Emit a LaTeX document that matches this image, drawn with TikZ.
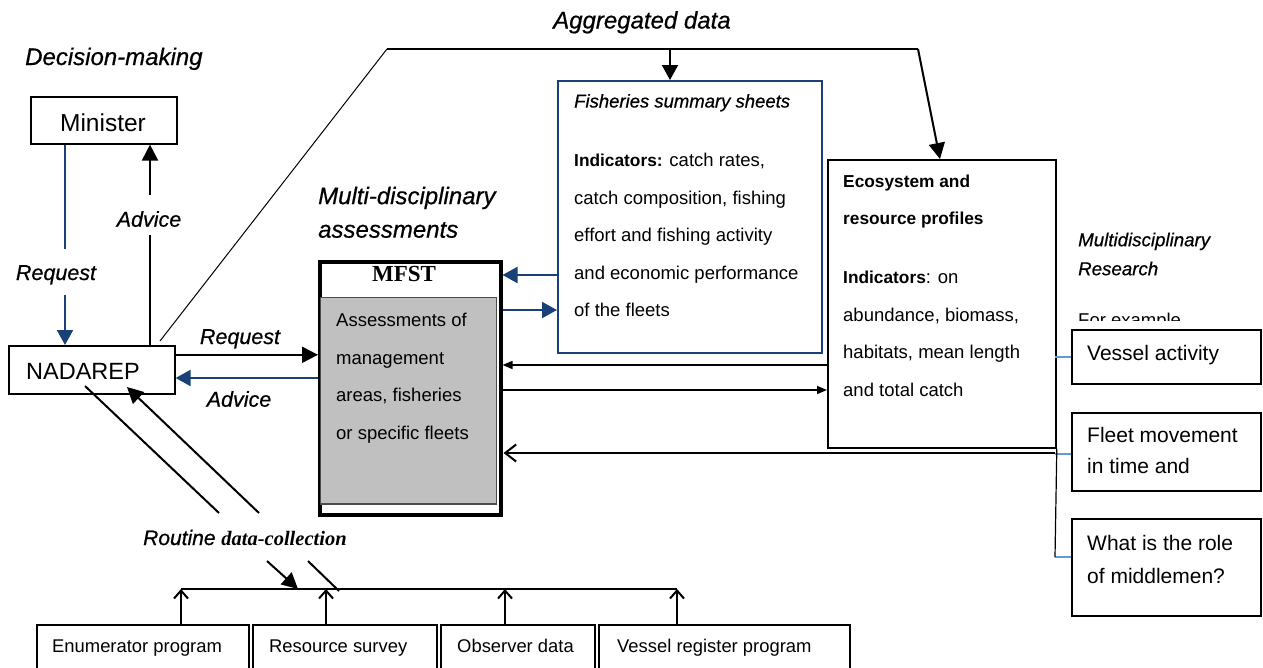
\documentclass[tikz,border=0pt]{standalone}
\usepackage{fontspec}
\setmainfont{Liberation Sans}
\newfontfamily\timesfont{Liberation Serif}
\newfontfamily\itlab[ItalicFeatures={FakeBold=0.6}]{Liberation Sans}
\usetikzlibrary{arrows.meta}
\newcommand\fsz[2]{\fontsize{#1}{#2}\selectfont}
\newcommand\bsm[1]{{\bfseries\fontsize{17.3}{37.5}\selectfont #1}}
\definecolor{navy}{RGB}{25,65,120}
\definecolor{lightline}{RGB}{95,155,215}
\definecolor{mfstgray}{RGB}{192,192,192}
\begin{document}
\begin{tikzpicture}[x=1pt,y=-1pt,
  box/.style={draw, line width=1.6pt, inner sep=0, anchor=north west},
  txt/.style={inner sep=0, anchor=base west},
  ctxt/.style={inner sep=0, anchor=base},
  ml/.style={inner sep=0, anchor=north west, align=left},
  body/.style={font=\fsz{18.5}{37.5}},
  ilabel/.style={font=\itlab\itshape\fsz{24}{33.5}},
  slabel/.style={font=\itlab\itshape\fsz{21.5}{25}},
  flow/.style={line width=2pt},
  bflow/.style={line width=2pt, draw=navy},
  tipL/.style={-{Triangle[length=16pt,width=16pt]}},
  tipM/.style={-{Triangle[length=15pt,width=16pt]}},
  tipS/.style={-{Triangle[length=10pt,width=8pt]}},
  tipO/.style={-{Straight Barb[length=8pt,width=14pt]}},
  tipOL/.style={-{Straight Barb[length=11pt,width=17pt]}},
]
\clip (0,0) rectangle (1263,667);
\fill[white] (0,0) rectangle (1263,667);

% ---------- headings ----------
\node[txt, ilabel] (dm) at (25,65) {Decision-making};
\node[txt, ilabel] (agg) at (553,28.5) {Aggregated data};
\node[ml, ilabel] (mda) at (318,180.5) {\strut Multi-disciplinary\\assessments};
\node[ml, font=\itlab\itshape\fsz{18.7}{29}] (mdr) at (1078,225.7) {\strut Multidisciplinary\\Research};
\begin{scope}
  \clip (1060,300) rectangle (1263,320.5);
  \node[txt, font=\fsz{18.5}{22}] (fex) at (1078,326.5) {For example};
\end{scope}

% ---------- Minister / NADAREP ----------
\node[box, minimum width=146pt, minimum height=47pt] (min) at (30,96) {};
\node[ctxt, font=\fsz{24.5}{28}] (mint) at (103,131.5) {Minister};
\node[box, minimum width=166pt, minimum height=48pt] (nad) at (8,345) {};
\node[txt, font=\fsz{23.5}{28}] (nadt) at (26,379.3) {NADAREP};

\coordinate (r1) at (65,249);
\coordinate (r2) at (65,295);
\draw[bflow] (min.south -| r1) -- (r1);
\draw[bflow, tipM] (r2) -- (nad.north -| r2);
\node[ctxt, slabel] (reqv) at (56,280) {Request};

\coordinate (a1) at (150,235);
\coordinate (a2) at (150,195);
\draw[flow] (nad.north -| a1) -- (a1);
\draw[flow, tipL] (a2) -- (min.south -| a2);
\node[ctxt, slabel] (advv) at (149,226.7) {Advice};

% ---------- MFST ----------
\node[box, line width=3.5pt, minimum width=181pt, minimum height=253pt] (mfst) at (318,260) {};
\draw[line width=1.2pt, draw=black!70, fill=mfstgray] (320.5,297.5) rectangle (496.5,504);
\draw[line width=3pt] (383,515) -- (500.5,515);
\node[ctxt, font={\timesfont\bfseries\fsz{23}{26}}] (mfstt) at (404,281.7) {MFST};
\node[ml, body] (mfstb) at (336,300.4) {\strut Assessments of\\management\\areas, fisheries\\or specific fleets};

\draw[flow, tipL] ([yshift=15pt]nad.east) -- ([yshift=15pt]nad.east -| mfst.west);
\draw[bflow, tipM] (mfst.west |- 0,378) -- (nad.east |- 0,378);
\node[ctxt, slabel] (reqh) at (240,344) {Request};
\node[ctxt, slabel] (advh) at (239,406.7) {Advice};

% ---------- Fisheries summary sheets ----------
\node[box, draw=navy, line width=1.8pt, minimum width=264pt, minimum height=272pt] (fish) at (557,80) {};
\node[txt, font=\itlab\itshape\fsz{18.5}{22}] (fisht) at (574,107.5) {Fisheries summary sheets};
\node[ml, body] (fishb) at (574,140.25) {\strut\bsm{Indicators:} catch rates,\\catch composition, fishing\\effort and fishing activity\\and economic performance\\of the fleets};

\draw[bflow, tipM] (fish.west |- 0,275) -- (mfst.east |- 0,275);
\draw[bflow, tipM] (mfst.east |- 0,310) -- (fish.west |- 0,310);

% ---------- Ecosystem ----------
\node[box, line width=1.8pt, minimum width=228pt, minimum height=288pt] (eco) at (827,159) {};
\node[ml, font=\fsz{17.3}{37}\bfseries] (ecot) at (843,161.6) {\strut Ecosystem and\\resource profiles};
\node[ml, body] (ecob) at (843,257.1) {\strut\bsm{Indicators}: on\\abundance, biomass,\\habitats, mean length\\and total catch};

\draw[line width=1.6pt, tipS] (eco.west |- 0,365) -- (mfst.east |- 0,365);
\draw[line width=1.6pt, tipS] (mfst.east |- 0,390) -- (eco.west |- 0,390);

% ---------- aggregated data lines ----------
\coordinate (g0) at (160,341);
\coordinate (g1) at (387,49);
\coordinate (g2) at (918,49);
\draw[line width=1pt] (g0) -- (g1);
\draw[line width=1.5pt] (g1) -- (g2);
\draw[flow, tipL] (g2) -- (eco.north west -| 940,0);
\draw[flow, tipM] (g1 -| 670,0) -- (fish.north -| 670,0);

% ---------- research boxes ----------
\node[box, minimum width=189pt, minimum height=54pt] (va) at (1071,329) {};
\node[txt, font=\fsz{21}{30}] (vat) at (1087,360) {Vessel activity};
\node[box, minimum width=189pt, minimum height=78pt] (fm) at (1071,412) {};
\node[ml, font=\fsz{21}{31}] (fmt) at (1087,420.3) {\strut Fleet movement\\in time and};
\node[box, minimum width=189pt, minimum height=97pt] (wr) at (1071,518) {};
\node[ml, font=\fsz{21}{33}] (wrt) at (1087,526.9) {\strut What is the role\\of middlemen?};

\coordinate (k1) at (1055,357);
\coordinate (k2) at (1055,454);
\coordinate (k3) at (1055,557);
\coordinate (k0) at (1055,453);
\draw[lightline, line width=1.3pt] (k1) -- (k1 -| va.west);
\draw[lightline, line width=1.3pt] (k2) -- (k2 -| fm.west);
\draw[lightline, line width=1.3pt] (k3) -- (k3 -| wr.west);
\draw[line width=1.2pt] (eco.south east) -- (k3);
\draw[flow, tipOL] (k0) -- ([xshift=1pt]k0 -| mfst.east);

% ---------- routine data collection ----------
\coordinate (d1) at (85,386);
\coordinate (d2) at (219,513);
\coordinate (d3) at (267,561);
\coordinate (d4) at (298,589);
\coordinate (e1) at (339,591);
\coordinate (e2) at (308,561);
\coordinate (e3) at (259,513);
\coordinate (e4) at (127,387);
\draw[flow] (d1) -- (d2);
\draw[flow, tipL] (d3) -- (d4);
\draw[flow] (e1) -- (e2);
\draw[flow, tipL] (e3) -- (e4);
\node[txt, font=\itlab\itshape\fsz{21}{25}] (rdc) at (143,545) {Routine {\timesfont\bfseries\fsz{20.5}{25}data-collection}};

\node[box, minimum width=212pt, minimum height=60pt] (en) at (36,624) {};
\node[box, minimum width=184pt, minimum height=60pt] (rs) at (252,624) {};
\node[box, minimum width=154pt, minimum height=60pt] (ob) at (440,624) {};
\node[box, minimum width=251pt, minimum height=60pt] (vr) at (598,624) {};
\node[txt, font=\fsz{18.4}{22}] (ent) at (52,652) {Enumerator program};
\node[txt, font=\fsz{18.4}{22}] (rst) at (269,652) {Resource survey};
\node[txt, font=\fsz{18.4}{22}] (obt) at (457,652) {Observer data};
\node[txt, font=\fsz{18.4}{22}] (vrt) at (617,652) {Vessel register program};

\coordinate (b1) at (181,589);
\coordinate (b2) at (326,589);
\coordinate (b3) at (505,589);
\coordinate (b4) at (677,589);
\draw[flow] (b1) -- (b4);
\draw[flow, tipO] (en.north -| b1) -- (b1);
\draw[flow, tipO] (rs.north -| b2) -- (b2);
\draw[flow, tipO] (ob.north -| b3) -- (b3);
\draw[flow, tipO] (vr.north -| b4) -- (b4);
\end{tikzpicture}
\end{document}
